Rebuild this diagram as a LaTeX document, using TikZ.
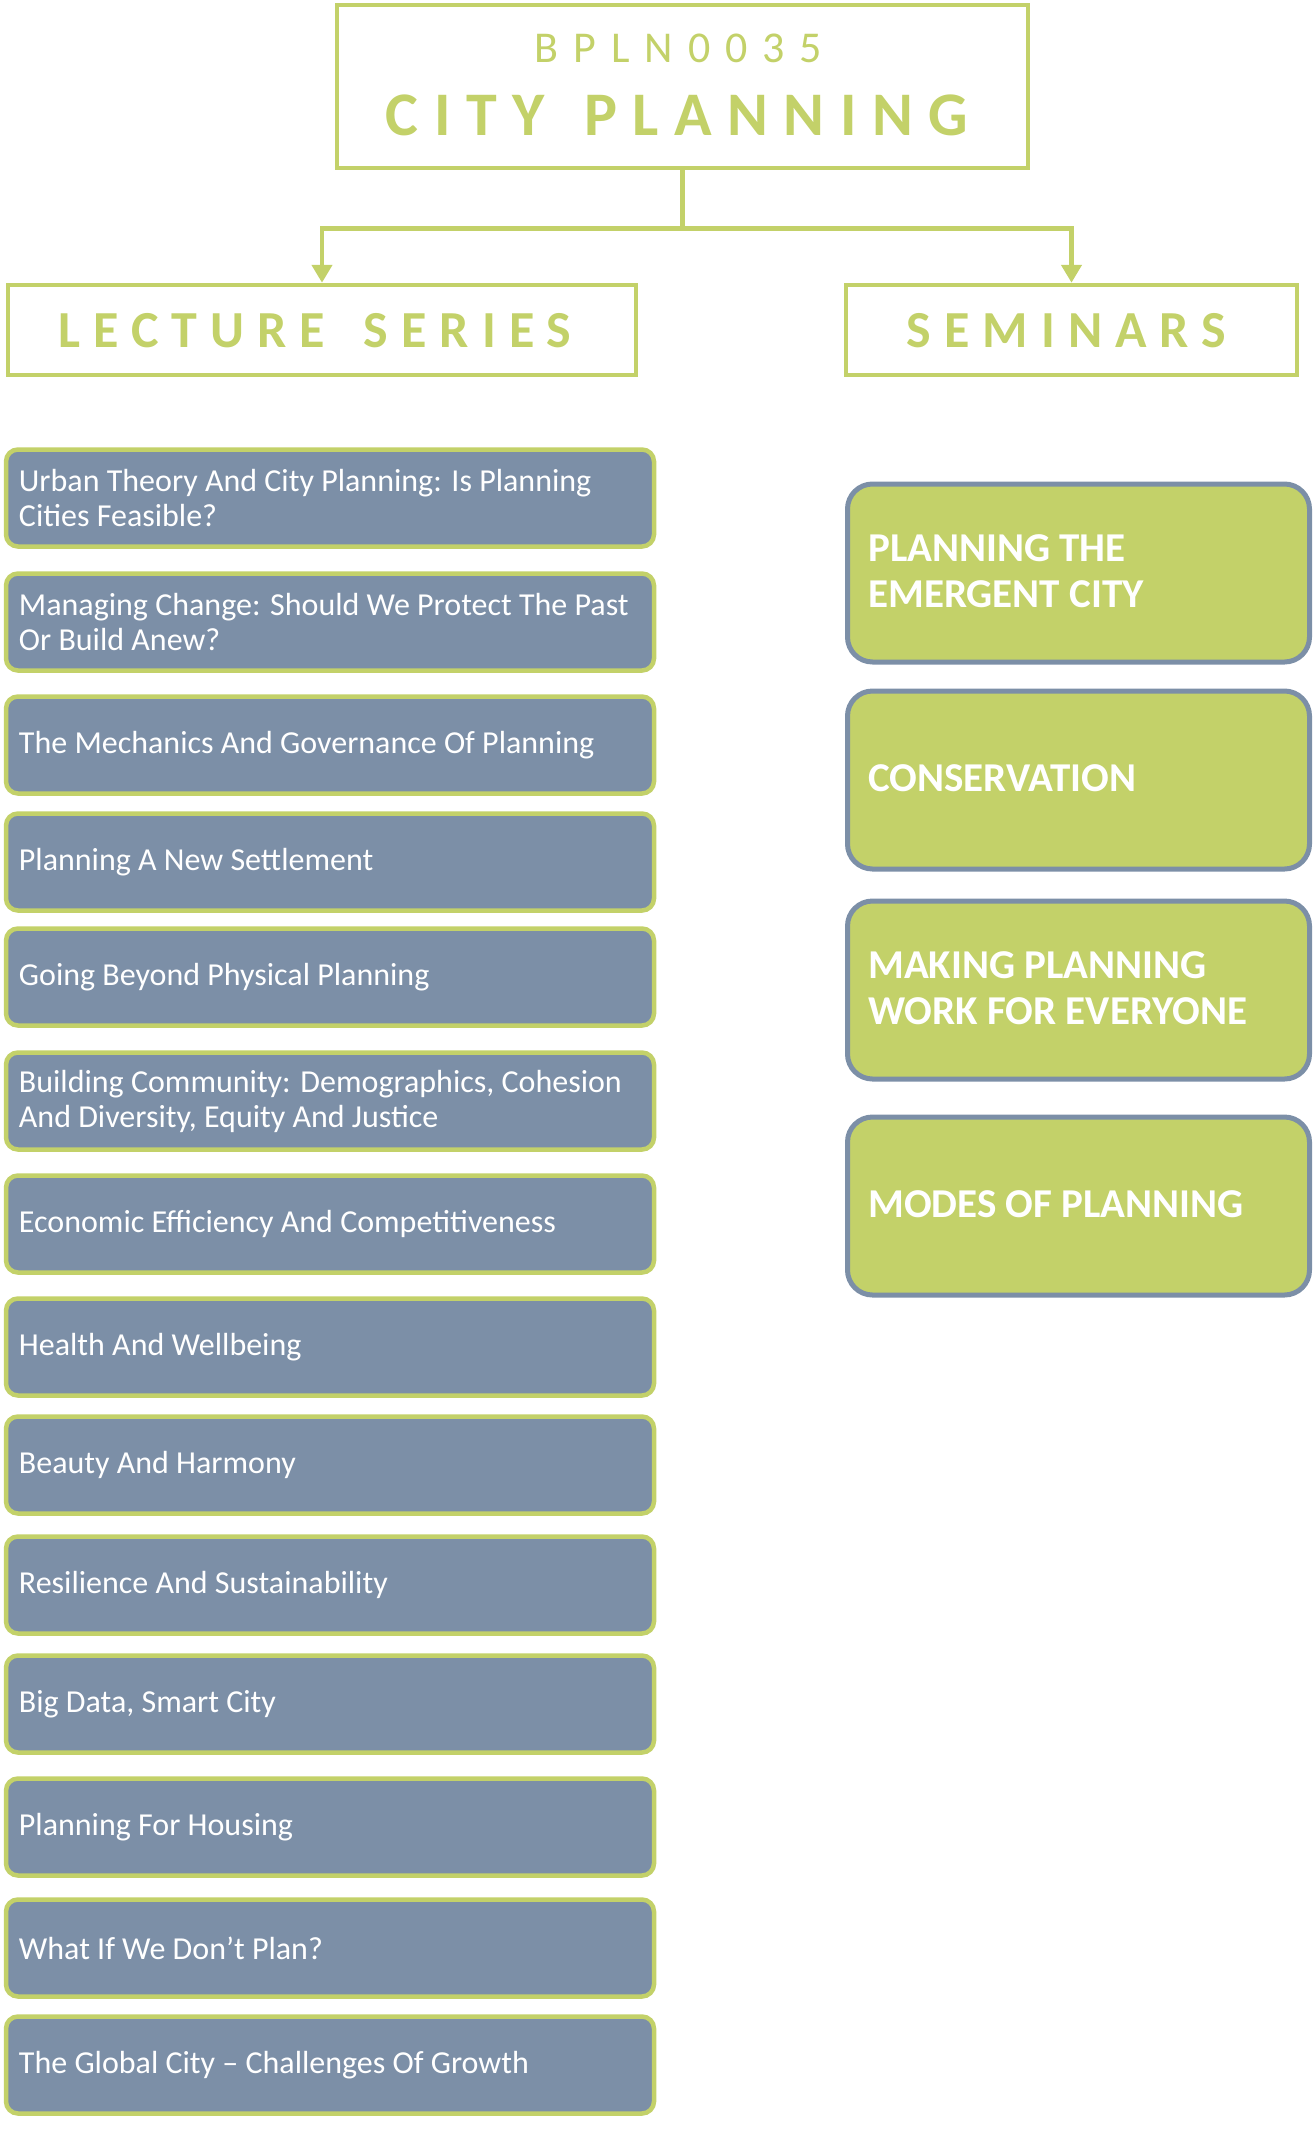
\documentclass[tikz,border=0pt]{standalone}
\usepackage{fontspec}
\setmainfont{Carlito}
\usetikzlibrary{arrows.meta}
\definecolor{mygreen}{HTML}{C3D169}
\definecolor{myslate}{HTML}{7C8FA7}
\tikzset{
  hdrbox/.style={draw=mygreen, line width=4.5pt, fill=white, inner sep=0pt},
  hdrtext/.style={anchor=base, inner sep=0pt, text=mygreen},
  lecbox/.style={draw=mygreen, line width=4.5pt, fill=myslate, rounded corners=12pt,
    minimum width=648pt, minimum height=97pt, inner sep=0pt},
  lectext/.style={anchor=west, inner sep=0pt, text=white, align=left,
    font=\fontsize{32}{35}\selectfont},
  sembox/.style={draw=myslate, line width=5pt, fill=mygreen, rounded corners=25pt,
    minimum width=462pt, minimum height=178pt, inner sep=0pt},
  semtext/.style={anchor=west, inner sep=0pt, text=white, align=left,
    font=\fontsize{41}{46}\selectfont\bfseries},
  conn/.style={draw=mygreen, line width=4.5pt, -{Triangle[width=20pt,length=18pt]}},
}
\begin{document}
\begin{tikzpicture}[x=1pt,y=-1pt]
\useasboundingbox (0,0) rectangle (1313,2145);
% headers
\node[hdrbox, minimum width=691pt, minimum height=163pt] (title) at (682.5,86.5) {};
\node[hdrtext, font=\fontsize{44}{50}\selectfont\addfontfeature{LetterSpace=34}] (code) at (678.5,62) {BPLN0035};
\node[hdrtext, font=\fontsize{62}{70}\selectfont\bfseries\addfontfeature{LetterSpace=25}] (name) at (677,135) {CITY\hspace{10pt} PLANNING};
\node[hdrbox, minimum width=628pt, minimum height=90pt] (lect) at (322,330) {};
\node[hdrtext, font=\fontsize{52}{60}\selectfont\bfseries\addfontfeature{LetterSpace=25}] (lectt) at (315,347) {LECTURE\hspace{14pt} SERIES};
\node[hdrbox, minimum width=451pt, minimum height=90pt] (sem) at (1071.5,330) {};
\node[hdrtext, font=\fontsize{52}{60}\selectfont\bfseries\addfontfeature{LetterSpace=25}] (semt) at (1066.5,347) {SEMINARS};
% connectors
\draw[conn] (title.south) -- ++(0,58) -| (lect.north);
\draw[conn] (title.south) -- ++(0,58) -| (sem.north);
% lectures
\node[lecbox] (l1) at (330,498) {};
\node[lectext] (l1t) at ([xshift=15pt]l1.west) {Urban Theory And City Planning: Is Planning\\Cities Feasible?};
\node[lecbox] (l2) at (330,622) {};
\node[lectext] (l2t) at ([xshift=15pt]l2.west) {Managing Change: Should We Protect The Past\\Or Build Anew?};
\node[lecbox] (l3) at (330,745) {};
\node[lectext] (l3t) at ([xshift=15pt]l3.west) {The Mechanics And Governance Of Planning};
\node[lecbox] (l4) at (330,862) {};
\node[lectext] (l4t) at ([xshift=15pt]l4.west) {Planning A New Settlement};
\node[lecbox] (l5) at (330,977) {};
\node[lectext] (l5t) at ([xshift=15pt]l5.west) {Going Beyond Physical Planning};
\node[lecbox] (l6) at (330,1101) {};
\node[lectext] (l6t) at ([xshift=15pt]l6.west) {Building Community: Demographics, Cohesion\\And Diversity, Equity And Justice};
\node[lecbox] (l7) at (330,1224) {};
\node[lectext] (l7t) at ([xshift=15pt]l7.west) {Economic Efficiency And Competitiveness};
\node[lecbox] (l8) at (330,1347) {};
\node[lectext] (l8t) at ([xshift=15pt]l8.west) {Health And Wellbeing};
\node[lecbox] (l9) at (330,1465) {};
\node[lectext] (l9t) at ([xshift=15pt]l9.west) {Beauty And Harmony};
\node[lecbox] (l10) at (330,1585) {};
\node[lectext] (l10t) at ([xshift=15pt]l10.west) {Resilience And Sustainability};
\node[lecbox] (l11) at (330,1704) {};
\node[lectext] (l11t) at ([xshift=15pt]l11.west) {Big Data, Smart City};
\node[lecbox] (l12) at (330,1827) {};
\node[lectext] (l12t) at ([xshift=15pt]l12.west) {Planning For Housing};
\node[lecbox] (l13) at (330,1948) {};
\node[lectext] (l13t) at ([xshift=15pt]l13.west) {What If We Don’t Plan?};
\node[lecbox] (l14) at (330,2065) {};
\node[lectext] (l14t) at ([xshift=15pt]l14.west) {The Global City – Challenges Of Growth};
% seminars
\node[sembox] (s1) at (1078.5,573) {};
\node[semtext] (s1t) at ([xshift=23pt,yshift=2pt]s1.west) {PLANNING THE\\EMERGENT CITY};
\node[sembox] (s2) at (1078.5,780) {};
\node[semtext] (s2t) at ([xshift=23pt,yshift=2pt]s2.west) {CONSERVATION};
\node[sembox] (s3) at (1078.5,990) {};
\node[semtext] (s3t) at ([xshift=23pt,yshift=2pt]s3.west) {MAKING PLANNING\\WORK FOR EVERYONE};
\node[sembox] (s4) at (1078.5,1206) {};
\node[semtext] (s4t) at ([xshift=23pt,yshift=2pt]s4.west) {MODES OF PLANNING};
\end{tikzpicture}
\end{document}
